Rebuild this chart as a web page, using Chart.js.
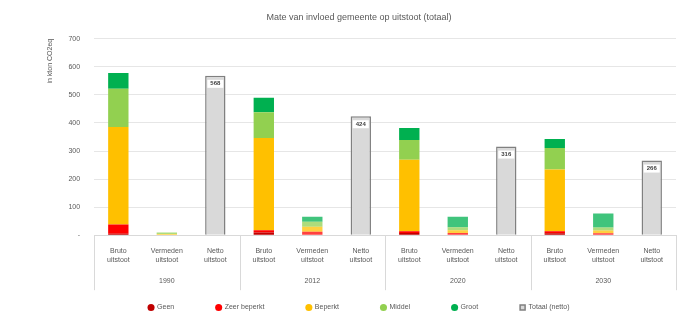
<!DOCTYPE html>
<html lang="nl">
<head>
  <meta charset="UTF-8" />
  <title>Mate van invloed gemeente op uitstoot</title>
  <script src="https://cdn.jsdelivr.net/npm/chart.js@4.4.0/dist/chart.umd.min.js"></script>
  <style>
    html, body { margin: 0; padding: 0; background: #fff; }
    #wrap { width: 691px; height: 321px; }
  </style>
</head>
<body>
  <div id="wrap"><canvas id="chart"></canvas></div>

  <script>
    // categories: three bars per year
    const years = ['1990', '2012', '2020', '2030'];
    const barTypes = [['Bruto', 'uitstoot'], ['Vermeden', 'uitstoot'], ['Netto', 'uitstoot']];
    const yTicks = [0, 100, 200, 300, 400, 500, 600, 700];

    // series values (kton CO2eq), order: bruto, vermeden, netto per year
    const geen        = [5,   0,  null, 10,  2,  null, 8,   2,  null, 7,   2,  null];
    const zeerBeperkt = [33,  0,  null, 8,   10, null, 6,   6,  null, 7,   5,  null];
    const beperkt     = [348, 4,  null, 328, 18, null, 255, 10, null, 220, 10, null];
    const middel      = [136, 6,  null, 92,  18, null, 70,  10, null, 77,  10, null];
    const groot       = [56,  0,  null, 52,  18, null, 43,  38, null, 32,  50, null];
    const netto       = [null, null, 568, null, null, 424, null, null, 316, null, null, 266];

    const labels = [];
    years.forEach(() => barTypes.forEach(t => labels.push(t)));

    const font = 'Liberation Sans, Arial, sans-serif';

    function fade(color, alpha) {
      return ctx => (ctx.dataIndex % 3 === 1 ? color.replace('1)', alpha + ')') : color);
    }

    const segDefs = [
      ['Geen', geen, 'rgba(192,0,0,1)'],
      ['Zeer beperkt', zeerBeperkt, 'rgba(255,0,0,1)'],
      ['Beperkt', beperkt, 'rgba(255,192,0,1)'],
      ['Middel', middel, 'rgba(146,208,80,1)'],
      ['Groot', groot, 'rgba(0,176,80,1)']
    ];

    const datasets = segDefs.map(([label, data, color]) => ({
      label,
      data,
      backgroundColor: fade(color, 0.75),
      borderWidth: 0,
      pointStyle: 'circle',
      barPercentage: 0.42,
      categoryPercentage: 1
    }));

    datasets.push({
      label: 'Totaal (netto)',
      data: netto,
      backgroundColor: '#d9d9d9',
      borderColor: '#808080',
      borderWidth: 1.5,
      pointStyle: 'rect',
      barPercentage: 0.42,
      categoryPercentage: 1
    });

    // year labels and separators under the category axis
    const groupAxis = {
      id: 'groupAxis',
      afterDraw(chart) {
        const x = chart.scales.x;
        const c = chart.ctx;
        const top = x.top;
        const step = x.getPixelForValue(1) - x.getPixelForValue(0);
        c.save();
        c.strokeStyle = '#d9d9d9';
        c.lineWidth = 1;
        for (let g = 0; g <= years.length; g++) {
          const px = Math.round(x.getPixelForValue(g * 3) - step / 2) + 0.5;
          c.beginPath();
          c.moveTo(px, top);
          c.lineTo(px, top + 55);
          c.stroke();
        }
        c.fillStyle = '#595959';
        c.font = '7px ' + font;
        c.textAlign = 'center';
        c.textBaseline = 'middle';
        years.forEach((yr, g) => {
          c.fillText(yr, x.getPixelForValue(g * 3 + 1), top + 46);
        });
        c.restore();
      }
    };

    // value labels at the top of the netto bars
    const nettoLabels = {
      id: 'nettoLabels',
      afterDatasetsDraw(chart) {
        const meta = chart.getDatasetMeta(datasets.length - 1);
        const c = chart.ctx;
        c.save();
        c.font = 'bold 6px ' + font;
        c.textAlign = 'center';
        c.textBaseline = 'middle';
        meta.data.forEach((bar, i) => {
          if (netto[i] == null) return;
          const y = bar.y + 8;
          c.fillStyle = '#ffffff';
          c.fillRect(bar.x - 8, y - 4, 16, 8);
          c.fillStyle = '#404040';
          c.fillText(String(netto[i]), bar.x, y);
        });
        c.restore();
      }
    };

    // wide legend spacing without the tall legend box
    const legendFit = {
      id: 'legendFit',
      afterInit(chart) {
        const lg = chart.legend;
        const fit = lg.fit;
        const draw = lg.draw;
        lg.fit = function () { fit.call(this); this.height = 27; };
        lg.draw = function () {
          const t = this.top;
          this.top = t - 30;
          draw.call(this);
          this.top = t;
        };
      }
    };

    new Chart(document.getElementById('chart'), {
      type: 'bar',
      data: { labels, datasets },
      plugins: [groupAxis, nettoLabels, legendFit],
      options: {
        responsive: true,
        maintainAspectRatio: false,
        animation: false,
        layout: { padding: { left: 42, right: 15, top: 6, bottom: 2 } },
        plugins: {
          title: {
            display: true,
            text: 'Mate van invloed gemeente op uitstoot (totaal)',
            color: '#595959',
            font: { family: font, size: 9, weight: 'normal' },
            padding: { top: 6, bottom: 16 }
          },
          legend: {
            position: 'bottom',
            labels: {
              usePointStyle: true,
              boxWidth: 5,
              boxHeight: 5,
              padding: 42,
              color: '#595959',
              font: { family: font, size: 7 }
            }
          },
          tooltip: { enabled: false }
        },
        scales: {
          x: {
            stacked: true,
            grid: { display: false },
            border: { color: '#d9d9d9' },
            ticks: {
              color: '#595959',
              font: { family: font, size: 7 },
              maxRotation: 0,
              autoSkip: false,
              padding: 4
            },
            afterFit(scale) { scale.height += 24; }
          },
          y: {
            stacked: true,
            min: 0,
            max: 700,
            afterBuildTicks(scale) { scale.ticks = yTicks.map(v => ({ value: v })); },
            grid: { color: '#e6e6e6', drawTicks: false },
            border: { display: false },
            title: {
              display: true,
              text: 'in kton CO2eq',
              align: 'end',
              color: '#595959',
              font: { family: font, size: 7 },
              padding: { top: 4, bottom: 0 }
            },
            ticks: {
              color: '#595959',
              font: { family: font, size: 7 },
              padding: 14,
              callback: v => (v === 0 ? '-' : v)
            }
          }
        }
      }
    });
  </script>
</body>
</html>
